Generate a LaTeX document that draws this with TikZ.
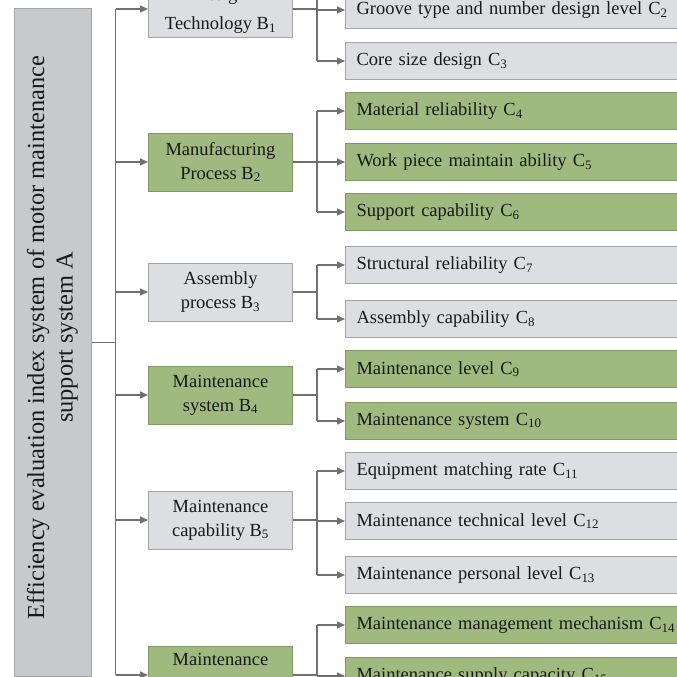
\documentclass[tikz,border=0pt]{standalone}
\usepackage{fontspec}
\setmainfont{Liberation Serif}
\usetikzlibrary{positioning,arrows.meta}
\definecolor{boxgray}{HTML}{DDDEE1}
\definecolor{edgegray}{HTML}{A2A4A7}
\definecolor{boxgreen}{HTML}{9FB97F}
\definecolor{edgegreen}{HTML}{7F9966}
\definecolor{rootgray}{HTML}{C7C9CB}
\definecolor{linegray}{HTML}{707070}
\newcommand{\sub}[1]{\textsubscript{#1}}

\begin{document}
\begin{tikzpicture}[x=1pt,y=-1pt,
    every node/.style={text=black!90},
    root/.style={draw=edgegray,fill=rootgray,line width=1pt,rotate=90,
      minimum width=667pt,minimum height=77pt,align=center,inner sep=0pt,
      font=\fontsize{24.4}{28.5}\selectfont},
    bgray/.style={draw=edgegray,fill=boxgray,line width=1pt,anchor=west,
      minimum width=144pt,minimum height=58pt,align=center,inner sep=0pt,
      font=\fontsize{18.5}{24}\selectfont},
    bgreen/.style={bgray,draw=edgegreen,fill=boxgreen},
    cgray/.style={draw=edgegray,fill=boxgray,line width=1pt,anchor=west,
      text width=338pt,minimum height=37pt,inner xsep=11pt,inner ysep=0pt,
      font=\fontsize{18.5}{22}\selectfont},
    cgreen/.style={cgray,draw=edgegreen,fill=boxgreen},
    link/.style={draw=linegray,line width=1.5pt},
    arr/.style={link,-{Triangle[length=8pt,width=7pt]}}]
  \useasboundingbox (0,0) rectangle (677,677);
  \clip (0,0) rectangle (677,677);

  % root
  \node[root] (A) at (52.5,342.5) {\hspace*{10pt}Efficiency evaluation index system of motor maintenance\\\hspace*{10pt}support system A};

  % level B
  \node[bgray,minimum height=54pt] (B1) at (148,11) {Design\\[5pt]Technology B\sub{1}};
  \node[bgreen] (B2) at (148,162) {Manufacturing\\Process B\sub{2}};
  \node[bgray]  (B3) at (148,292) {Assembly\\process B\sub{3}};
  \node[bgreen] (B4) at (148,395) {Maintenance\\system B\sub{4}};
  \node[bgray]  (B5) at (148,520) {Maintenance\\capability B\sub{5}};
  \node[bgreen] (B6) at (148,675) {Maintenance\\\strut};

  % level C
  \node[cgray]  (C2)  at (345,10)  {Groove type and number design level C\sub{2}};
  \node[cgray]  (C3)  at (345,61)  {Core size design C\sub{3}};
  \node[cgreen] (C4)  at (345,111) {Material reliability C\sub{4}};
  \node[cgreen] (C5)  at (345,162) {Work piece maintain ability C\sub{5}};
  \node[cgreen] (C6)  at (345,212) {Support capability C\sub{6}};
  \node[cgray]  (C7)  at (345,265) {Structural reliability C\sub{7}};
  \node[cgray]  (C8)  at (345,319) {Assembly capability C\sub{8}};
  \node[cgreen] (C9)  at (345,369) {Maintenance level C\sub{9}};
  \node[cgreen] (C10) at (345,421) {Maintenance system C\sub{10}};
  \node[cgray]  (C11) at (345,471) {Equipment matching rate C\sub{11}};
  \node[cgray]  (C12) at (345,521) {Maintenance technical level C\sub{12}};
  \node[cgray]  (C13) at (345,575) {Maintenance personal level C\sub{13}};
  \node[cgreen] (C14) at (345,625) {Maintenance management mechanism C\sub{14}};
  \node[cgreen] (C15) at (345,676) {Maintenance supply capacity C\sub{15}};

  % A to B
  \draw[link] (A.south) -- ++(24,0) coordinate (trunk);
  \coordinate (b1in) at (trunk |- 0,9);
  \draw[link] (b1in) -- (trunk |- B6);
  \draw[arr] (b1in) -- (b1in -| B1.west);
  \draw[arr] (trunk |- B2) -- (B2.west);
  \draw[arr] (trunk |- B3) -- (B3.west);
  \draw[arr] (trunk |- B4) -- (B4.west);
  \draw[arr] (trunk |- B5) -- (B5.west);
  \draw[arr] (trunk |- B6) -- (B6.west);

  % B to C
  \draw[link] (b1in -| B1.east) -- ++(24,0) coordinate (j1);
  \coordinate (j1top) at (j1 |- 0,-2);
  \draw[link] (j1top) -- (j1 |- C3);
  \draw[arr] (j1 |- C2) -- (C2.west);
  \draw[arr] (j1 |- C3) -- (C3.west);

  \draw[link] (B2.east) -- ++(24,0) coordinate (j2);
  \draw[link] (j2 |- C4) -- (j2 |- C6);
  \draw[arr] (j2 |- C4) -- (C4.west);
  \draw[arr] (j2 |- C5) -- (C5.west);
  \draw[arr] (j2 |- C6) -- (C6.west);

  \draw[link] (B3.east) -- ++(24,0) coordinate (j3);
  \draw[link] (j3 |- C7) -- (j3 |- C8);
  \draw[arr] (j3 |- C7) -- (C7.west);
  \draw[arr] (j3 |- C8) -- (C8.west);

  \draw[link] (B4.east) -- ++(24,0) coordinate (j4);
  \draw[link] (j4 |- C9) -- (j4 |- C10);
  \draw[arr] (j4 |- C9) -- (C9.west);
  \draw[arr] (j4 |- C10) -- (C10.west);

  \draw[link] (B5.east) -- ++(24,0) coordinate (j5);
  \draw[link] (j5 |- C11) -- (j5 |- C13);
  \draw[arr] (j5 |- C11) -- (C11.west);
  \draw[arr] (j5 |- C12) -- (C12.west);
  \draw[arr] (j5 |- C13) -- (C13.west);

  \draw[link] (B6.east) -- ++(24,0) coordinate (j6);
  \draw[link] (j6 |- C14) -- (j6 |- C15);
  \draw[arr] (j6 |- C14) -- (C14.west);
  \draw[arr] (j6 |- C15) -- (C15.west);
\end{tikzpicture}
\end{document}
